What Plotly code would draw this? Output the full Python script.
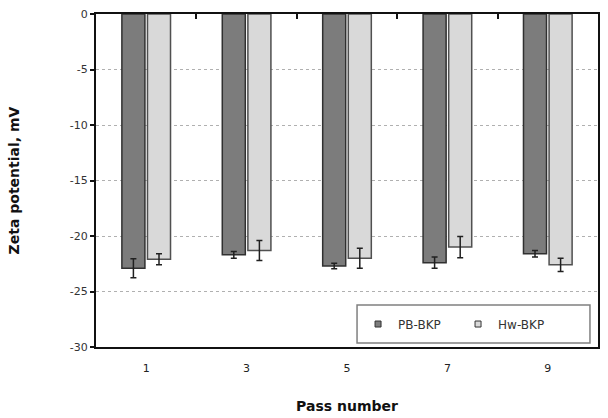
import plotly.graph_objects as go

categories = ["1", "3", "5", "7", "9"]
pb_values = [-22.9, -21.7, -22.7, -22.4, -21.6]
pb_errors = [0.85, 0.3, 0.25, 0.5, 0.3]
hw_values = [-22.1, -21.3, -22.0, -21.0, -22.6]
hw_errors = [0.5, 0.9, 0.9, 0.95, 0.6]
y_ticks = [0, -5, -10, -15, -20, -25, -30]
y_tick_labels = ["0", "-5", "-10", "-15", "-20", "-25", "-30"]

pb_color = "#7c7c7c"
hw_color = "#d9d9d9"
xpos = list(range(len(categories)))

fig = go.Figure()
fig.add_trace(go.Bar(
    x=xpos, y=pb_values, name="PB-BKP", showlegend=False,
    marker=dict(color=pb_color, line=dict(color="#303030", width=1.5)),
    error_y=dict(type="data", array=pb_errors, color="#202020", thickness=1.5, width=3),
))
fig.add_trace(go.Bar(
    x=xpos, y=hw_values, name="Hw-BKP", showlegend=False,
    marker=dict(color=hw_color, line=dict(color="#505050", width=1.5)),
    error_y=dict(type="data", array=hw_errors, color="#202020", thickness=1.5, width=3),
))
# legend entries with small square symbols
for name, col in [("PB-BKP", pb_color), ("Hw-BKP", hw_color)]:
    fig.add_trace(go.Scatter(
        x=[None], y=[None], mode="markers", name=name,
        marker=dict(symbol="square", size=6, color=col, line=dict(color="#333", width=1)),
    ))
# invisible trace to activate top axis for category separators
fig.add_trace(go.Scatter(x=[0], y=[0], xaxis="x2", mode="markers",
                         marker=dict(opacity=0), showlegend=False, hoverinfo="skip"))

font_family = "DejaVu Sans, Arial, sans-serif"

fig.update_layout(
    width=608, height=418,
    margin=dict(l=96, r=10, t=14, b=71),
    paper_bgcolor="white", plot_bgcolor="white",
    barmode="group", bargap=0.49, bargroupgap=0.1,
    font=dict(family=font_family, size=11, color="#222"),
    xaxis=dict(
        range=[-0.5, 4.5], tickmode="array", tickvals=xpos, ticktext=categories,
        showline=True, linecolor="#111", linewidth=2, mirror=True,
        ticks="", showgrid=False, zeroline=False, ticklabelstandoff=10,
        automargin=False,
        tickfont=dict(size=11, color="#222"),
        title=dict(text="<b>Pass number</b>", font=dict(size=14, color="#111"), standoff=27),
    ),
    xaxis2=dict(
        overlaying="x", side="top", range=[-0.5, 4.5],
        tickmode="array", tickvals=[0.5, 1.5, 2.5, 3.5],
        ticks="inside", ticklen=5, tickwidth=2, tickcolor="#111",
        showticklabels=False, showgrid=False, zeroline=False, showline=False,
        automargin=False,
    ),
    yaxis=dict(
        range=[-30, 0], tickmode="array", tickvals=y_ticks, ticktext=y_tick_labels,
        showline=True, linecolor="#111", linewidth=2, mirror=True,
        ticks="outside", ticklen=4, tickcolor="#111", tickwidth=1.5,
        showgrid=True, gridcolor="#b0b0b0", griddash="dot", gridwidth=1,
        zeroline=False, automargin=False,
        tickfont=dict(size=11, color="#333"),
        title=dict(text="<b>Zeta potential, mV</b>", font=dict(size=14, color="#111"), standoff=47),
    ),
    legend=dict(
        orientation="h", x=0.522, xanchor="left", y=0.069, yanchor="middle",
        bgcolor="rgba(0,0,0,0)", borderwidth=0,
        font=dict(size=12, color="#333"),
        entrywidth=55, entrywidthmode="pixels",
        itemwidth=30,
    ),
    shapes=[dict(
        type="rect", xref="paper", yref="paper",
        x0=0.520, x1=0.984, y0=0.012, y1=0.126,
        line=dict(color="#808080", width=1.5), fillcolor="white", layer="below",
    )],
    showlegend=True,
)

fig.write_html("out.html")
